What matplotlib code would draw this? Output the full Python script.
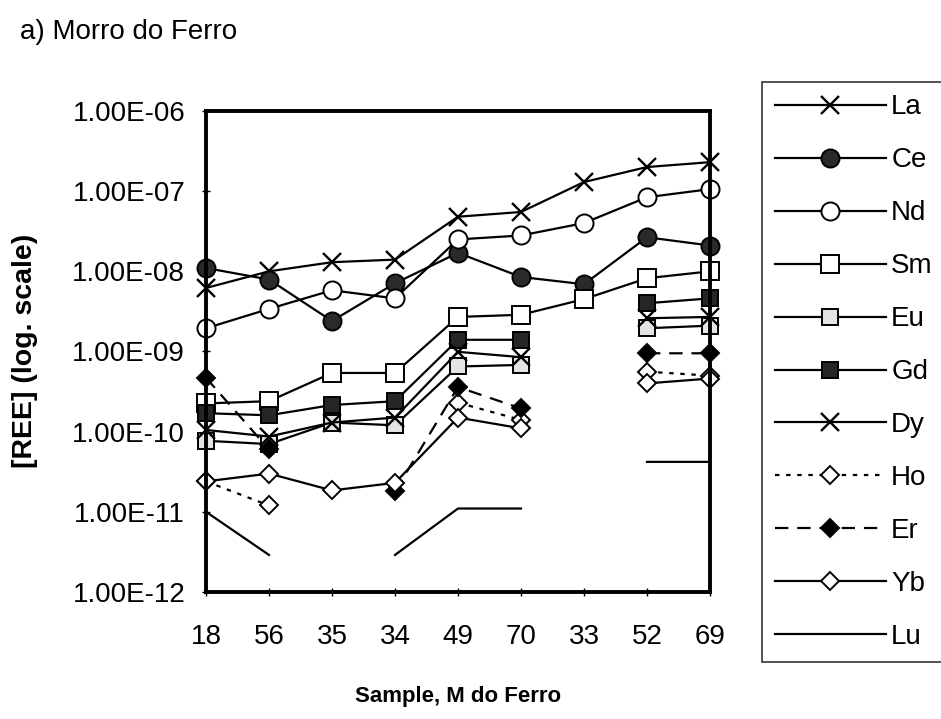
import numpy as np
import matplotlib
matplotlib.use("Agg")
from matplotlib import pyplot as plt
from matplotlib.ticker import LogLocator, NullLocator, FuncFormatter

plt.rcParams['font.family'] = ['Liberation Sans', 'DejaVu Sans']

# sample order along the x axis
samples = ["18", "56", "35", "34", "49", "70", "33", "52", "69"]

# REE concentrations per sample (None = not measured)
la = [6.2e-9, 1.0e-8, 1.3e-8, 1.4e-8, 4.8e-8, 5.5e-8, 1.3e-7, 2.0e-7, 2.3e-7]
ce = [1.1e-8, 7.9e-9, 2.4e-9, 7.1e-9, 1.7e-8, 8.5e-9, 6.9e-9, 2.66e-8, 2.1e-8]
nd = [1.95e-9, 3.4e-9, 5.8e-9, 4.6e-9, 2.5e-8, 2.8e-8, 4.0e-8, 8.4e-8, 1.06e-7]
sm = [2.25e-10, 2.4e-10, 5.4e-10, 5.4e-10, 2.7e-9, 2.87e-9, 4.5e-9, 8.2e-9, 1.0e-8]
eu = [7.7e-11, 7.0e-11, 1.3e-10, 1.2e-10, 6.5e-10, 6.8e-10, None, 1.95e-9, 2.1e-9]
gd = [1.7e-10, 1.6e-10, 2.15e-10, 2.4e-10, 1.4e-9, 1.4e-9, None, 4.0e-9, 4.6e-9]
dy = [1.05e-10, 8.7e-11, 1.3e-10, 1.5e-10, 9.9e-10, 8.5e-10, None, 2.6e-9, 2.7e-9]
ho = [2.4e-11, 1.2e-11, None, None, 2.3e-10, 1.4e-10, None, 5.6e-10, 5.0e-10]
er = [4.7e-10, 6.0e-11, None, 1.8e-11, 3.6e-10, 1.95e-10, None, 9.5e-10, 9.5e-10]
yb = [2.4e-11, 3.0e-11, 1.85e-11, 2.3e-11, 1.5e-10, 1.1e-10, None, 4.0e-10, 4.6e-10]
lu = [1.0e-11, 2.9e-12, None, 2.9e-12, 1.1e-11, 1.1e-11, None, 4.2e-11, 4.2e-11]


def arr(v):
    return np.array([np.nan if a is None else a for a in v], dtype=float)


fig = plt.figure(figsize=(9.41, 7.19), dpi=100)
ax = fig.add_axes([206 / 941, 1 - 592 / 719, 504 / 941, 481 / 719])

x = np.arange(len(samples))
lw = 1.6
series = [
    ("La", la, dict(marker='x', ms=13, mew=1.7, mfc='none', ls='-')),
    ("Ce", ce, dict(marker='o', ms=13, mfc='#2a2a2a', ls='-')),
    ("Nd", nd, dict(marker='o', ms=13, mfc='white', ls='-')),
    ("Sm", sm, dict(marker='s', ms=13, mfc='white', ls='-')),
    ("Eu", eu, dict(marker='s', ms=12, mfc='#e4e4e4', ls='-')),
    ("Gd", gd, dict(marker='s', ms=12, mfc='#262626', ls='-')),
    ("Dy", dy, dict(marker='x', ms=13, mew=1.7, mfc='none', ls='-')),
    ("Ho", ho, dict(marker='D', ms=9.5, mfc='white', ls=(0, (2, 3)))),
    ("Er", er, dict(marker='D', ms=9.5, mfc='black', ls=(0, (6, 4)))),
    ("Yb", yb, dict(marker='D', ms=9.5, mfc='white', ls='-')),
    ("Lu", lu, dict(marker='None', ls='-')),
]

handles = []
for name, vals, style in series:
    h, = ax.plot(x, arr(vals), color='black', lw=lw, mec='black', mew=style.pop('mew', 1.4),
                 clip_on=False, label=name, **style)
    handles.append(h)

ax.set_yscale('log')
ax.set_ylim(1e-12, 1e-6)
ax.set_xlim(0, len(samples) - 1)
ax.yaxis.set_major_locator(LogLocator(base=10, numticks=10))
ax.yaxis.set_minor_locator(NullLocator())
ax.yaxis.set_major_formatter(FuncFormatter(lambda v, _: f"{v:.2E}"))
ax.set_xticks(x)
ax.set_xticklabels(samples)

for s in ax.spines.values():
    s.set_linewidth(2.8)
ax.tick_params(axis='both', direction='inout', length=6, width=1, labelsize=20)
ax.tick_params(axis='x', pad=20)
ax.tick_params(axis='y', pad=12)

ax.set_xlabel("Sample, M do Ferro", fontsize=16, fontweight='bold', labelpad=26)
fig.text(25 / 941, 1 - 351 / 719, "[REE] (log. scale)", fontsize=20.5, fontweight='bold',
         rotation=90, ha='center', va='center')

fig.text(20 / 941, 1 - 32 / 719, "a) Morro do Ferro", fontsize=20, va='center', ha='left')

leg = ax.legend(handles=handles, loc='upper left', bbox_to_anchor=(762 / 941, 1 - 82 / 719),
                bbox_transform=fig.transFigure, borderaxespad=0, fontsize=20,
                handlelength=4.0, handletextpad=0.2, labelspacing=0.97,
                fancybox=False, frameon=True, borderpad=0.45)
leg.get_frame().set_edgecolor('black')
leg.get_frame().set_linewidth(1.2)

fig.savefig("out.png", dpi=100)
